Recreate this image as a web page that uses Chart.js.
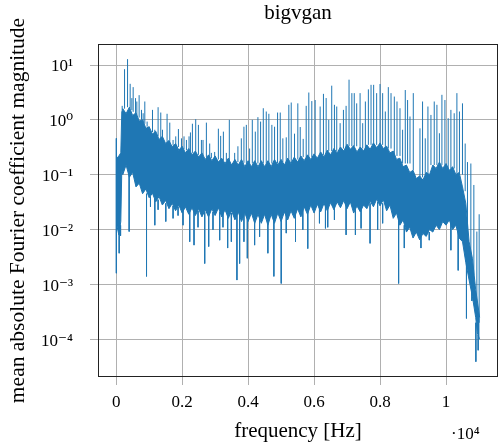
<!DOCTYPE html>
<html>
<head>
<meta charset="utf-8">
<script src="https://cdn.jsdelivr.net/npm/chart.js@4/dist/chart.umd.min.js"></script>
<style>
  html, body { margin: 0; padding: 0; background: #fff; }
  canvas { display: block; }
</style>
</head>
<body>
<canvas id="spectrumChart" width="499" height="448"></canvas>
<script>
// dense part of the spectrum (where the trace fills solid), ragged upper / lower edge
const coreFreq = [20, 80, 140, 170, 200, 300, 400, 500, 600, 700, 800, 900, 1000, 1100, 1200, 1300, 1400, 1500, 1600, 1700,
  1800, 1900, 2000, 2100, 2200, 2300, 2400, 2500, 2600, 2700, 2800, 2900, 3000, 3100, 3200, 3300, 3400, 3500, 3600, 3700,
  3800, 3900, 4000, 4100, 4200, 4300, 4400, 4500, 4600, 4700, 4800, 4900, 5000, 5100, 5200, 5300, 5400, 5500, 5600, 5700,
  5800, 5900, 6000, 6100, 6200, 6300, 6400, 6500, 6600, 6700, 6800, 6900, 7000, 7100, 7200, 7300, 7400, 7500, 7600, 7700,
  7800, 7900, 8000, 8100, 8200, 8300, 8400, 8500, 8600, 8700, 8800, 8900, 9000, 9100, 9200, 9300, 9400, 9500, 9600, 9700,
  9800, 9900, 10000, 10100, 10200, 10300, 10400, 10500, 10600, 10700, 10800, 10900, 10950, 11020];
const coreHigh = [0.2, 0.22, 0.25, 1.4, 1.6, 1.3, 1.7, 1.2, 1.35, 0.95, 1.0, 0.7, 0.75, 0.55, 0.62, 0.44, 0.5, 0.37, 0.42, 0.32,
  0.37, 0.28, 0.33, 0.25, 0.3, 0.23, 0.27, 0.21, 0.25, 0.19, 0.23, 0.18, 0.22, 0.17, 0.2, 0.16, 0.2, 0.15, 0.19, 0.15,
  0.19, 0.14, 0.18, 0.14, 0.18, 0.14, 0.18, 0.14, 0.18, 0.14, 0.19, 0.15, 0.19, 0.15, 0.2, 0.16, 0.21, 0.17, 0.22, 0.18,
  0.23, 0.19, 0.24, 0.2, 0.26, 0.21, 0.28, 0.23, 0.3, 0.25, 0.32, 0.27, 0.36, 0.29, 0.34, 0.26, 0.32, 0.27, 0.35, 0.29,
  0.38, 0.31, 0.38, 0.3, 0.33, 0.25, 0.27, 0.19, 0.2, 0.14, 0.15, 0.11, 0.12, 0.085, 0.095, 0.08, 0.11, 0.1, 0.15, 0.13,
  0.17, 0.13, 0.16, 0.12, 0.14, 0.1, 0.11, 0.06, 0.03, 0.006, 0.003, 0.0008, 0.0005, 0.00025];
const coreLow = [0.012, 0.008, 0.014, 0.12, 0.1, 0.15, 0.09, 0.11, 0.06, 0.07, 0.045, 0.055, 0.038, 0.046, 0.032, 0.04, 0.028, 0.034, 0.024, 0.03,
  0.022, 0.028, 0.02, 0.026, 0.019, 0.025, 0.018, 0.024, 0.017, 0.023, 0.017, 0.024, 0.018, 0.025, 0.017, 0.023, 0.016, 0.022, 0.015, 0.021,
  0.014, 0.02, 0.014, 0.02, 0.013, 0.019, 0.013, 0.019, 0.012, 0.019, 0.013, 0.02, 0.014, 0.021, 0.015, 0.022, 0.016, 0.024, 0.017, 0.026,
  0.019, 0.028, 0.02, 0.029, 0.021, 0.03, 0.022, 0.031, 0.023, 0.032, 0.025, 0.034, 0.024, 0.032, 0.02, 0.027, 0.021, 0.028, 0.024, 0.033,
  0.026, 0.036, 0.027, 0.035, 0.022, 0.028, 0.016, 0.02, 0.012, 0.015, 0.009, 0.011, 0.007, 0.009, 0.0065, 0.0085, 0.0075, 0.01, 0.009, 0.012,
  0.01, 0.014, 0.012, 0.015, 0.01, 0.012, 0.007, 0.006, 0.0025, 0.0012, 0.0006, 0.00025, 0.00013, 0.0001];

// upward spikes: frequency, where it leaves the band, tip
const peakFreq = [182, 254, 345, 424, 475, 515, 587, 626, 696, 767, 817, 868, 938, 998, 1101, 1171, 1271, 1352, 1404, 1543,
  1625, 1725, 1806, 1887, 1979, 2057, 2130, 2209, 2251, 2311, 2411, 2493, 2584, 2633, 2735, 2835, 2886, 2986, 3098, 3168,
  3250, 3340, 3430, 3592, 3691, 3794, 3873, 3946, 4045, 4127, 4218, 4297, 4378, 4460, 4550, 4629, 4720, 4802, 4893, 4974,
  5053, 5156, 5234, 5307, 5407, 5507, 5580, 5670, 5761, 5840, 5931, 6033, 6184, 6284, 6366, 6445, 6535, 6617, 6687, 6790,
  6890, 6971, 7060, 7145, 7218, 7292, 7395, 7474, 7555, 7646, 7727, 7806, 7897, 8000, 8079, 8160, 8251, 8333, 8433, 8514,
  8605, 8684, 8765, 8835, 8908, 9008, 9210, 9289, 9371, 9452, 9543, 9643, 9724, 9800, 9876, 9967, 10066, 10148, 10248, 10330,
  10408, 10499, 10581, 10651, 10753, 10844, 10935, 11005];
const peakFrom = [1.5, 1.6, 1.7, 1.6, 1.5, 1.4, 1.3, 1.2, 1.1, 1.0, 0.9, 0.85, 0.75, 0.68, 0.6, 0.55, 0.5, 0.45, 0.44, 0.38,
  0.36, 0.34, 0.33, 0.32, 0.3, 0.29, 0.28, 0.27, 0.26, 0.25, 0.24, 0.23, 0.22, 0.22, 0.21, 0.2, 0.2, 0.19, 0.19, 0.18,
  0.18, 0.18, 0.17, 0.17, 0.17, 0.165, 0.165, 0.16, 0.16, 0.16, 0.16, 0.16, 0.16, 0.16, 0.16, 0.16, 0.16, 0.16, 0.16, 0.16,
  0.17, 0.17, 0.17, 0.17, 0.19, 0.19, 0.19, 0.21, 0.21, 0.21, 0.21, 0.23, 0.23, 0.23, 0.23, 0.27, 0.27, 0.27, 0.27, 0.3,
  0.3, 0.3, 0.33, 0.33, 0.33, 0.33, 0.3, 0.3, 0.3, 0.35, 0.35, 0.35, 0.35, 0.35, 0.35, 0.3, 0.3, 0.3, 0.22, 0.22,
  0.22, 0.16, 0.16, 0.16, 0.16, 0.12, 0.09, 0.09, 0.1, 0.1, 0.15, 0.15, 0.15, 0.15, 0.15, 0.15, 0.13, 0.13, 0.13, 0.1,
  0.1, 0.1, 0.05, 0.008, 0.003, 0.0015, 0.0004, 0.0002];
const peakTo = [1.8, 8.4, 12.8, 4.54, 2.49, 3.95, 2.49, 2.16, 2.82, 1.52, 1.32, 2.16, 0.93, 0.75, 1.52, 0.66, 1.7, 1.36, 0.66, 1.29,
  0.89, 0.43, 0.5, 0.68, 0.46, 0.5, 0.43, 0.5, 0.59, 0.85, 1.03, 0.81, 0.43, 0.43, 0.89, 0.37, 0.25, 0.26, 0.69, 0.51,
  0.61, 0.25, 1.0, 0.25, 0.33, 0.46, 0.75, 0.81, 0.3, 1.0, 0.61, 1.12, 0.93, 1.63, 1.42, 1.29, 0.81, 0.75, 1.36, 1.36,
  0.46, 0.48, 1.88, 2.07, 0.56, 2.0, 0.74, 0.45, 1.8, 3.15, 2.2, 2.3, 1.75, 2.98, 2.5, 1.0, 4.2, 1.88, 1.75, 0.87,
  1.52, 1.8, 5.4, 3.07, 3.07, 2.0, 3.07, 0.87, 2.16, 3.6, 4.35, 4.35, 3.07, 4.5, 3.07, 1.42, 3.95, 3.07, 2.66, 2.16,
  1.63, 0.66, 3.5, 2.3, 1.15, 3.07, 0.7, 2.16, 0.46, 1.75, 1.23, 2.16, 1.88, 0.57, 2.86, 2.3, 1.07, 1.52, 1.32, 3.07,
  1.42, 2.0, 0.37, 0.17, 0.16, 0.065, 0.0092, 0.019];

// downward spikes: frequency, where it leaves the band, bottom
const dipFreq = [5, 91, 133, 393, 920, 1040, 1171, 1271, 1504, 1725, 1876, 2027, 2230, 2360, 2481, 2684, 2805, 2935, 3138, 3238,
  3380, 3492, 3661, 3743, 3873, 3976, 4197, 4348, 4599, 4781, 5004, 5156, 5437, 5658, 5809, 6163, 6345, 6414, 6617, 6971,
  7253, 7425, 7697, 7927, 8079, 8563, 8735, 9240, 9492, 10148, 10369, 10620, 10784, 10905, 10975];
const dipFrom = [0.46, 0.012, 0.012, 0.12, 0.045, 0.04, 0.037, 0.035, 0.03, 0.027, 0.026, 0.025, 0.023, 0.023, 0.022, 0.021, 0.021, 0.021, 0.021, 0.022,
  0.021, 0.02, 0.02, 0.019, 0.019, 0.018, 0.018, 0.017, 0.016, 0.017, 0.018, 0.019, 0.021, 0.024, 0.025, 0.026, 0.027, 0.027, 0.028, 0.03,
  0.024, 0.025, 0.03, 0.032, 0.03, 0.016, 0.012, 0.0075, 0.009, 0.014, 0.009, 0.004, 0.0008, 0.0002, 0.00012];
const dipTo = [0.0016, 0.0037, 0.0077, 0.0092, 0.0014, 0.026, 0.012, 0.023, 0.014, 0.016, 0.018, 0.012, 0.006, 0.0052, 0.011, 0.0024, 0.0049, 0.0099, 0.0064, 0.011,
  0.0046, 0.006, 0.0012, 0.0024, 0.006, 0.003, 0.0052, 0.0074, 0.0037, 0.0014, 0.00104, 0.0086, 0.006, 0.0099, 0.0045, 0.013, 0.0105, 0.011, 0.015, 0.008,
  0.008, 0.0105, 0.0056, 0.0099, 0.013, 0.00104, 0.0046, 0.0046, 0.0064, 0.0042, 0.0018, 0.00024, 0.0005, 0.000039, 0.000063];

const xTickValues = [0, 2000, 4000, 6000, 8000, 10000];
const xTickLabels = ['0', '0.2', '0.4', '0.6', '0.8', '1'];
const yTickValues = [1e1, 1e0, 1e-1, 1e-2, 1e-3, 1e-4];
const yTickLabels = ['10¹', '10⁰', '10⁻¹', '10⁻²', '10⁻³', '10⁻⁴'];

const blue = '#1f77b4';
const serif = "'Liberation Serif', 'DejaVu Serif', serif";

function strokes(freq, from, to) {
  const pts = [];
  freq.forEach((f, i) => {
    pts.push({x: f, y: from[i]}, {x: f, y: to[i]}, {x: f, y: null});
  });
  return pts;
}

const extraText = {
  id: 'extraText',
  afterDraw(chart) {
    const {ctx, chartArea: a} = chart;
    ctx.save();
    ctx.strokeStyle = '#222';
    ctx.lineWidth = 1;
    ctx.strokeRect(Math.round(a.left) + 0.5, Math.round(a.top) + 0.5,
      Math.round(a.right - a.left) - 1, Math.round(a.bottom - a.top) - 1);
    ctx.fillStyle = '#000';
    ctx.textAlign = 'center';
    ctx.textBaseline = 'alphabetic';
    ctx.font = '21px ' + serif;
    ctx.fillText('bigvgan', (a.left + a.right) / 2, 19);
    ctx.textAlign = 'left';
    ctx.font = '17px ' + serif;
    ctx.fillText('·10⁴', 451, 439);
    ctx.restore();
  }
};

new Chart(document.getElementById('spectrumChart'), {
  type: 'line',
  data: {
    datasets: [
      {
        data: coreFreq.map((f, i) => ({x: f, y: coreHigh[i]})),
        borderColor: blue, backgroundColor: blue, borderWidth: 1,
        pointRadius: 0, fill: '+1', tension: 0
      },
      {
        data: coreFreq.map((f, i) => ({x: f, y: coreLow[i]})),
        borderColor: blue, borderWidth: 1, pointRadius: 0, fill: false, tension: 0
      },
      {
        data: strokes(peakFreq, peakFrom, peakTo),
        borderColor: blue, borderWidth: 1, pointRadius: 0, fill: false, spanGaps: false
      },
      {
        data: strokes(dipFreq, dipFrom, dipTo),
        borderColor: blue, borderWidth: 1, pointRadius: 0, fill: false, spanGaps: false
      }
    ]
  },
  options: {
    responsive: false,
    animation: false,
    devicePixelRatio: 1,
    layout: {padding: {top: 44, right: 1, bottom: 0, left: 0}},
    plugins: {legend: {display: false}, tooltip: {enabled: false}},
    scales: {
      x: {
        type: 'linear',
        min: -551.25,
        max: 11576.25,
        afterFit: s => { s.height = 71; },
        afterBuildTicks: s => { s.ticks = xTickValues.map(v => ({value: v})); },
        ticks: {
          callback: (v, i) => xTickLabels[i],
          font: {family: serif, size: 17}, color: '#000',
          padding: 7, maxRotation: 0, autoSkip: false
        },
        grid: {color: '#b0b0b0', tickColor: '#b0b0b0', tickLength: 8, lineWidth: 1},
        border: {display: false},
        title: {
          display: true, text: 'frequency [Hz]', color: '#000',
          font: {family: serif, size: 21}, padding: {top: 0, bottom: 4}
        }
      },
      y: {
        type: 'logarithmic',
        min: Math.pow(10, -4.688),
        max: Math.pow(10, 1.383),
        afterFit: s => { s.width = 98; },
        afterBuildTicks: s => { s.ticks = yTickValues.map(v => ({value: v})); },
        ticks: {
          callback: (v, i) => yTickLabels[i],
          font: {family: serif, size: 17}, color: '#000',
          padding: 17, labelOffset: 2, autoSkip: false
        },
        grid: {color: '#b0b0b0', tickColor: '#b0b0b0', tickLength: 8, lineWidth: 1},
        border: {display: false},
        title: {
          display: true, text: 'mean absolute Fourier coefficient magnitude', color: '#000',
          font: {family: serif, size: 21.5}, padding: {top: 5, bottom: 0}
        }
      }
    }
  },
  plugins: [extraText]
});
</script>
</body>
</html>
